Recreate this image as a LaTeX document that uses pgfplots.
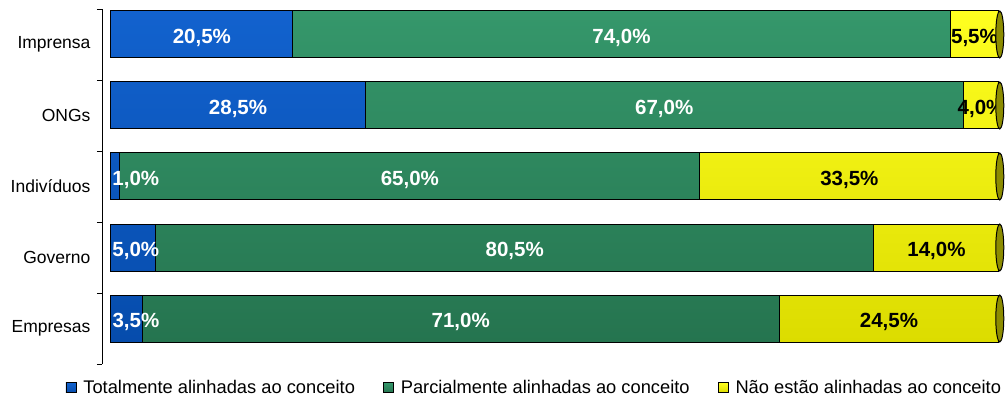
\documentclass[border=0pt]{standalone}
\usepackage{fontspec}
\setmainfont{Liberation Sans}
\usepackage{pgfplots}
\usepackage{pgfplotstable}
\pgfplotsset{compat=1.18}
\definecolor{bluT}{HTML}{1262CE}
\definecolor{bluM}{HTML}{0A5AC6}
\definecolor{bluB}{HTML}{064CAC}
\definecolor{grnT}{HTML}{35976B}
\definecolor{grnM}{HTML}{2E8B5E}
\definecolor{grnB}{HTML}{25744F}
\definecolor{yelT}{HTML}{FFFF20}
\definecolor{yelM}{HTML}{F8F800}
\definecolor{yelB}{HTML}{DCDC00}
\definecolor{capc}{HTML}{8C8C00}
\definecolor{legBlue}{HTML}{0A58C4}
\definecolor{legGreen}{HTML}{2E8B5A}
\definecolor{legYel}{HTML}{FFFF00}
\pgfplotstableread{
y t p n
0 3.5 71.0 24.5
1 5.0 80.5 14.0
2 1.0 65.0 33.5
3 28.5 67.0 4.0
4 20.5 74.0 5.5
}\data
\tikzset{
  lbl/.style={anchor=center, yshift=7pt, font=\fontsize{20.5}{22}\selectfont\bfseries},
}
\begin{document}
\begin{tikzpicture}
\useasboundingbox (-102pt,-38pt) rectangle (904pt,364pt);
\begin{axis}[
  xbar stacked,
  x=8.88pt, y=71pt,
  xmin=-1.0, xmax=100.6,
  ymin=-0.5, ymax=4.5,
  bar width=47pt,
  bar shift=10pt,
  clip=false,
  axis x line=none,
  axis y line*=left,
  axis line style={line width=0.8pt},
  ytick={0,1,2,3,4},
  yticklabels={Empresas,Governo,Indivíduos,ONGs,Imprensa},
  major tick length=0pt,
  minor ytick={-0.5,0.5,1.5,2.5,3.5,4.5},
  minor tick length=5pt,
  tick align=outside,
  minor y tick style={line width=0.8pt,black},
  yticklabel style={font=\fontsize{17.5}{20}\selectfont, xshift=-8pt},
  legend columns=3,
  legend style={draw=none, fill=none, at={(-0.0406,-0.04)}, anchor=north west,
    font=\fontsize{18.3}{21}\selectfont, inner sep=0pt,
    /tikz/every odd column/.append style={column sep=5pt},
    /tikz/every even column/.append style={column sep=26pt}},
  point meta=explicit symbolic,
  nodes near coords={\pgfmathprintnumber[fixed,fixed zerofill,precision=1,use comma,assume math mode=true]{\pgfplotspointmeta}\%},
]
\addplot[draw=black, line width=1pt, top color=bluT, middle color=bluM, bottom color=bluB,
  every node near coord/.style={lbl, text=white, xshift={(\pgfplotspointmeta < 5.6 ? (5.6-\pgfplotspointmeta)*4.44 : 0)*1pt}},
  legend image code/.code={\draw[line width=0.8pt,draw=black,fill=legBlue] (0pt,-5pt) rectangle (10pt,5pt);}]
  table[x expr={\thisrow{t}*100/(\thisrow{t}+\thisrow{p}+\thisrow{n})},y=y,meta=t]{\data};
\addlegendentry{Totalmente alinhadas ao conceito}
\addplot[draw=black, line width=1pt, top color=grnT, middle color=grnM, bottom color=grnB,
  every node near coord/.style={lbl, text=white},
  legend image code/.code={\draw[line width=0.8pt,draw=black,fill=legGreen] (0pt,-5pt) rectangle (10pt,5pt);}]
  table[x expr={\thisrow{p}*100/(\thisrow{t}+\thisrow{p}+\thisrow{n})},y=y,meta=p]{\data};
\addlegendentry{Parcialmente alinhadas ao conceito}
\addplot[draw=black, line width=1pt, top color=yelT, middle color=yelM, bottom color=yelB,
  every node near coord/.style={lbl, text=black},
  legend image code/.code={\draw[line width=0.8pt,draw=black,fill=legYel] (0pt,-5pt) rectangle (10pt,5pt);}]
  table[x expr={\thisrow{n}*100/(\thisrow{t}+\thisrow{p}+\thisrow{n})},y=y,meta=n]{\data};
\addlegendentry{Não estão alinhadas ao conceito}
\end{axis}
\begin{axis}[
  x=8.88pt, y=71pt,
  xmin=-1.0, xmax=100.6,
  ymin=-0.5, ymax=4.5,
  hide axis, clip=false,
]
\addplot[only marks, mark=*, mark size=23.5pt,
  mark options={xscale=0.17, fill=capc, draw=black, line width=1pt}]
  coordinates {(100.1,0.141) (100.1,1.141) (100.1,2.141) (100.1,3.141) (100.1,4.141)};
\end{axis}
\end{tikzpicture}
\end{document}
